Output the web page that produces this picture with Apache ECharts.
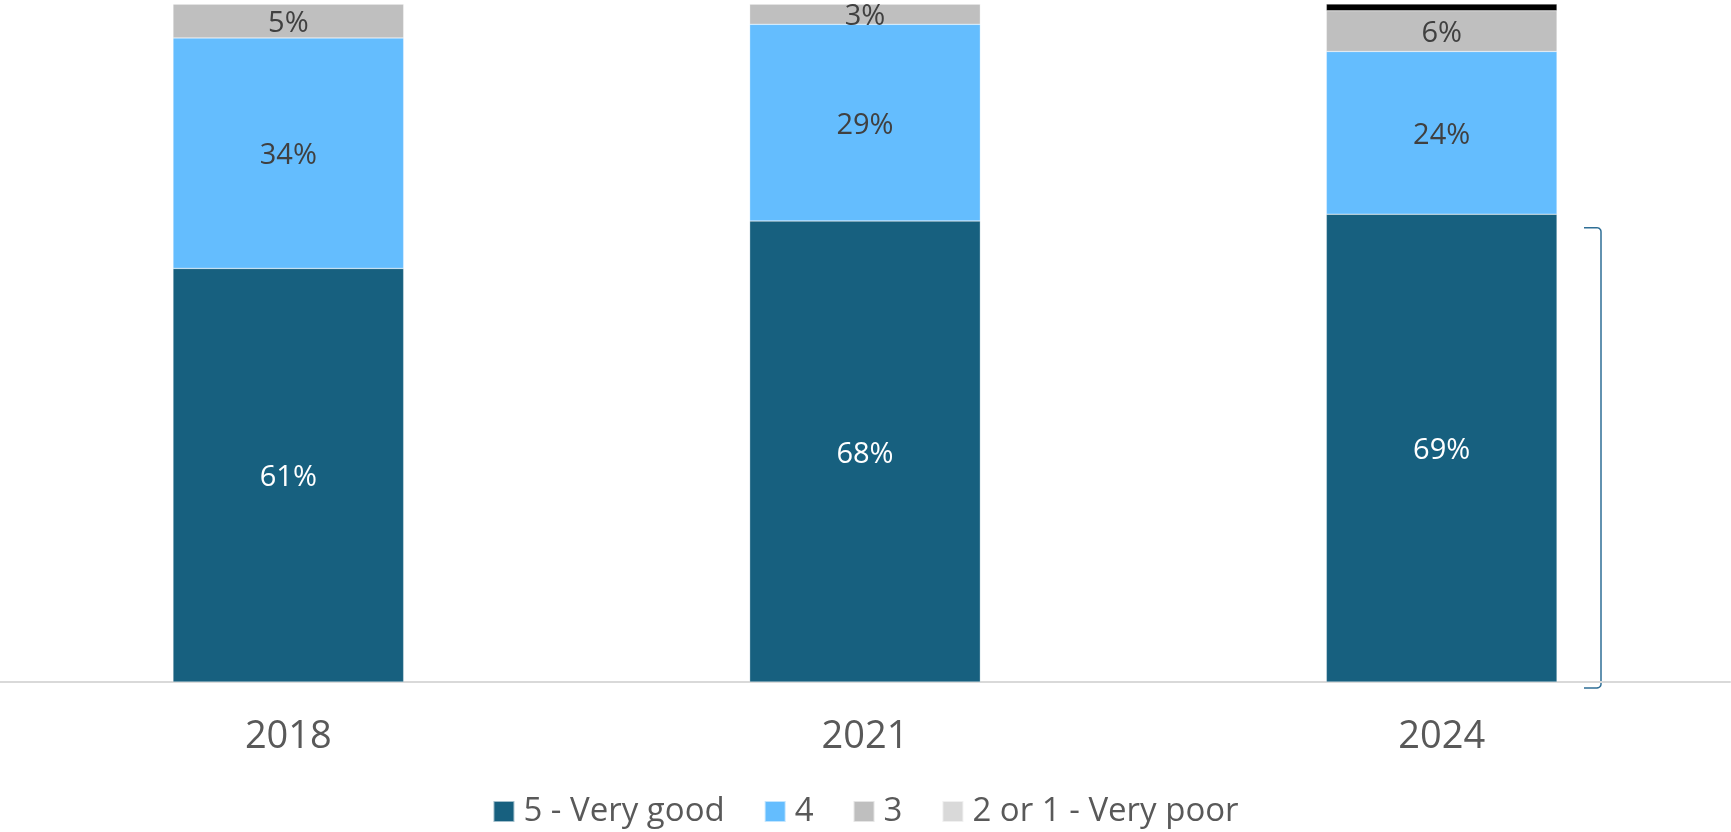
<!DOCTYPE html>
<html>
<head>
<meta charset="utf-8">
<script src="https://cdn.jsdelivr.net/npm/echarts@6/dist/echarts.min.js"></script>
<style>
  html, body { margin: 0; padding: 0; background: #ffffff; }
  #chart { width: 1731px; height: 832px; }
</style>
</head>
<body>
<div id="chart"></div>
<script>
// Survey years and the share of ratings in each band (percent)
const categories = ['2018', '2021', '2024'];
const seriesNames = ['5 - Very good', '4', '3', '2 or 1 - Very poor'];
const veryGood = [61, 68, 69];
const good = [34, 29, 24];
const neutral = [5, 3, 6];
const poor = [0, 0, 1];

const values = [veryGood, good, neutral, poor];
const colors = ['#17607f', '#64bdfe', '#bfbfbf', '#d9d9d9'];
const labelColors = ['#ffffff', '#404040', '#404040', '#404040'];
// the thin top slice in 2024 is rendered in black
const itemOverrides = { 3: { 2: { color: '#000000' } } };

const FONT = "'Open Sans', 'Noto Sans', sans-serif";

const chart = echarts.init(document.getElementById('chart'), null, { renderer: 'canvas' });

const series = seriesNames.map((name, s) => ({
  name,
  type: 'bar',
  stack: 'total',
  barWidth: '40%',
  color: colors[s],
  itemStyle: { color: colors[s], borderColor: 'rgba(255,255,255,0.6)', borderWidth: 0.5 },
  label: {
    show: s < 3,
    position: 'inside',
    offset: [0, 3],
    color: labelColors[s],
    fontFamily: FONT,
    fontSize: 29,
    formatter: p => (p.value > 0 ? p.value + '%' : '')
  },
  emphasis: { disabled: true },
  data: values[s].map((v, i) => {
    const o = itemOverrides[s] && itemOverrides[s][i];
    return o ? { value: v, itemStyle: { color: o.color } } : v;
  })
}));

chart.setOption({
  animation: false,
  backgroundColor: '#ffffff',
  grid: { left: 0, right: 1, top: 4, bottom: 150, containLabel: false },
  legend: {
    data: seriesNames,
    top: 789,
    left: 'center',
    itemWidth: 21,
    itemHeight: 21,
    itemGap: 39,
    icon: 'rect',
    textStyle: {
      color: '#595959',
      fontFamily: FONT,
      fontSize: 33,
      lineHeight: 35,
      padding: [0, 0, 0, 4]
    }
  },
  xAxis: {
    type: 'category',
    data: categories,
    axisLine: { show: true, lineStyle: { color: '#d9d9d9', width: 2 } },
    axisTick: { show: false },
    axisLabel: { color: '#595959', fontFamily: FONT, fontSize: 38, margin: 36 },
    splitLine: { show: false }
  },
  yAxis: {
    type: 'value',
    min: 0,
    max: 100,
    show: false,
    splitLine: { show: false }
  },
  series
});

// quarter-circle points for the bracket's rounded corners
function corner(cx, cy, r, a0, a1) {
  const pts = [];
  const n = 6;
  for (let k = 0; k <= n; k++) {
    const a = a0 + (a1 - a0) * k / n;
    pts.push([cx + r * Math.cos(a), cy + r * Math.sin(a)]);
  }
  return pts;
}

// bracket beside the 2024 "Very good" bar
function drawBracket() {
  const xc = chart.convertToPixel({ xAxisIndex: 0 }, '2024');
  const band = xc - chart.convertToPixel({ xAxisIndex: 0 }, '2021');
  const barRight = xc + band * 0.2;
  const xv = barRight + 44;
  const x0 = barRight + 27;
  const yTop = chart.convertToPixel({ yAxisIndex: 0 }, 67);
  const yBot = chart.convertToPixel({ yAxisIndex: 0 }, 0) + 6;
  const r = 4;
  const points = [[x0, yTop]]
    .concat(corner(xv - r, yTop + r, r, -Math.PI / 2, 0))
    .concat(corner(xv - r, yBot - r, r, 0, Math.PI / 2))
    .concat([[x0, yBot]]);
  chart.setOption({
    graphic: [{
      type: 'polyline',
      shape: { points },
      style: { fill: null, stroke: '#2f6f96', lineWidth: 1.5 },
      silent: true
    }]
  });
}
drawBracket();
</script>
</body>
</html>
